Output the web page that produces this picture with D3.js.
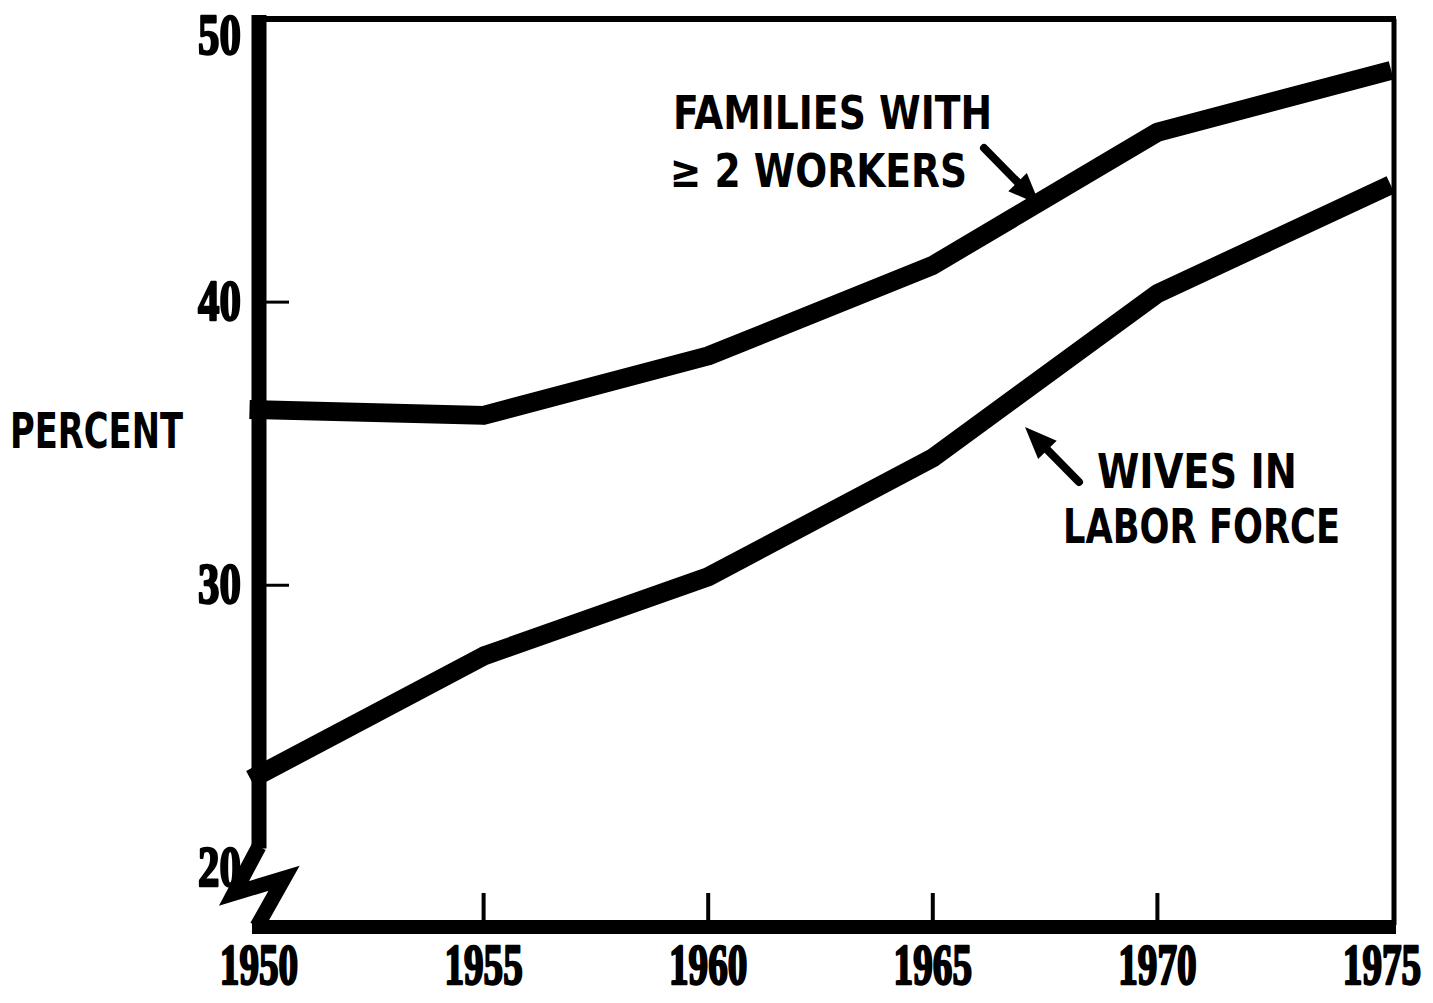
<!DOCTYPE html>
<html lang="en">
<head>
  <meta charset="UTF-8">
  <title>Families with two or more workers</title>
  <script src="https://d3js.org/d3.v7.min.js"></script>
  <style>
    body {
      margin: 0;
      padding: 0;
      background: #fff;
    }

    .tick-label {
      font-family: "Liberation Serif", "DejaVu Serif", serif;
      font-weight: bold;
      fill: #000;
      stroke: #000;
      stroke-width: 2.5px;
      stroke-linejoin: round;
    }

    .note {
      font-family: "DejaVu Sans Condensed", "Liberation Sans Narrow", "DejaVu Sans", sans-serif;
      font-weight: bold;
      fill: #000;
    }

    .series {
      fill: none;
      stroke: #000;
      stroke-width: 19px;
      stroke-linejoin: round;
      stroke-linecap: square;
    }
  </style>
</head>
<body>
  <div id="chart"></div>

  <script>
    const years = [1950, 1955, 1960, 1965, 1970, 1975];
    const familiesTwoWorkers = [36.2, 36.0, 38.1, 41.3, 46.0, 48.1];
    const wivesInLaborForce = [23.3, 27.5, 30.3, 34.5, 40.3, 44.0];
    const yTicks = [20, 30, 40, 50];
    const xTicks = [1950, 1955, 1960, 1965, 1970, 1975];

    const width = 1433;
    const height = 1003;

    const x = d3.scaleLinear().domain([1950, 1975]).range([259, 1382]);
    const y = d3.scaleLinear().domain([18, 50]).range([925, 19]);
    const frameRight = x(1975) + 12;

    const svg = d3.select("#chart")
      .append("svg")
      .attr("width", width)
      .attr("height", height);

    // frame: thick left + bottom axis, thin top and right edges
    svg.append("line")
      .attr("x1", x(1950) - 4).attr("x2", frameRight + 2)
      .attr("y1", y(50)).attr("y2", y(50))
      .attr("stroke", "#000").attr("stroke-width", 6);

    svg.append("line")
      .attr("x1", frameRight).attr("x2", frameRight)
      .attr("y1", y(50)).attr("y2", y(18))
      .attr("stroke", "#000").attr("stroke-width", 5);

    svg.append("line")
      .attr("x1", x(1950)).attr("x2", x(1950))
      .attr("y1", y(50) - 4).attr("y2", y(20) - 20)
      .attr("stroke", "#000").attr("stroke-width", 15);

    svg.append("line")
      .attr("x1", x(1950) - 7).attr("x2", frameRight + 2)
      .attr("y1", y(18) + 2).attr("y2", y(18) + 2)
      .attr("stroke", "#000").attr("stroke-width", 14);

    // axis break zigzag
    const bx = x(1950), by = y(20);
    svg.append("path")
      .attr("d", d3.line()([[bx, by - 22], [bx - 25, by + 25], [bx + 25, by + 10], [bx - 2, by + 58]]))
      .attr("fill", "none")
      .attr("stroke", "#000")
      .attr("stroke-width", 15)
      .attr("stroke-linejoin", "miter");

    // y ticks (inside) and labels
    svg.append("g")
      .selectAll("line")
      .data([30, 40])
      .join("line")
      .attr("x1", x(1950) + 6).attr("x2", x(1950) + 30)
      .attr("y1", d => y(d)).attr("y2", d => y(d))
      .attr("stroke", "#000").attr("stroke-width", 3);

    // condensed bold numerals: squeeze horizontally
    svg.append("g")
      .selectAll("text")
      .data(yTicks)
      .join("text")
      .attr("class", "tick-label")
      .attr("transform", d => `translate(241,${y(d) + (d === 50 ? 35 : 18)}) scale(0.74,1)`)
      .attr("text-anchor", "end")
      .attr("font-size", 58)
      .text(d => d);

    // x ticks (inside) and labels
    svg.append("g")
      .selectAll("line")
      .data(xTicks.slice(1, -1))
      .join("line")
      .attr("x1", d => x(d)).attr("x2", d => x(d))
      .attr("y1", y(18) - 32).attr("y2", y(18))
      .attr("stroke", "#000").attr("stroke-width", 4);

    svg.append("g")
      .selectAll("text")
      .data(xTicks)
      .join("text")
      .attr("class", "tick-label")
      .attr("transform", d => `translate(${Math.min(x(d), 1386)},984) scale(0.7,1)`)
      .attr("text-anchor", "middle")
      .attr("font-size", 56)
      .text(d => d);

    svg.append("text")
      .attr("class", "note")
      .attr("x", 10)
      .attr("y", 448)
      .attr("font-size", 50)
      .attr("textLength", 173)
      .attr("lengthAdjust", "spacingAndGlyphs")
      .text("PERCENT");

    // the two series
    const line = d3.line()
      .x(d => x(d[0]))
      .y(d => y(d[1]));

    svg.append("path")
      .attr("class", "series")
      .attr("d", line(d3.zip(years, familiesTwoWorkers)));

    svg.append("path")
      .attr("class", "series")
      .attr("d", line(d3.zip(years, wivesInLaborForce)));

    // annotations with arrows
    const notes = [
      { text: "FAMILIES WITH", x: 673, y: 129, size: 46, len: 319 },
      { text: "\u2265 2 WORKERS", x: 670, y: 187, size: 46, len: 297 },
      { text: "WIVES IN", x: 1097, y: 488, size: 48, len: 200 },
      { text: "LABOR FORCE", x: 1063, y: 543, size: 48, len: 277 }
    ];

    svg.append("g")
      .selectAll("text")
      .data(notes)
      .join("text")
      .attr("class", "note")
      .attr("x", d => d.x)
      .attr("y", d => d.y)
      .attr("font-size", d => d.size)
      .attr("textLength", d => d.len)
      .attr("lengthAdjust", "spacingAndGlyphs")
      .text(d => d.text);

    const arrows = [
      { from: [984, 148], to: [1040, 205] },
      { from: [1079, 482], to: [1025, 427] }
    ];

    arrows.forEach(a => {
      const dx = a.to[0] - a.from[0], dy = a.to[1] - a.from[1];
      const len = Math.hypot(dx, dy);
      const ux = dx / len, uy = dy / len;
      const headLen = 32, headW = 13;
      const base = [a.to[0] - ux * headLen, a.to[1] - uy * headLen];

      svg.append("line")
        .attr("x1", a.from[0]).attr("y1", a.from[1])
        .attr("x2", base[0]).attr("y2", base[1])
        .attr("stroke", "#000")
        .attr("stroke-width", 8)
        .attr("stroke-linecap", "round");

      svg.append("path")
        .attr("d", d3.line()([
          a.to,
          [base[0] - uy * headW, base[1] + ux * headW],
          [base[0] + uy * headW, base[1] - ux * headW]
        ]) + "Z")
        .attr("fill", "#000");
    });
  </script>
</body>
</html>
